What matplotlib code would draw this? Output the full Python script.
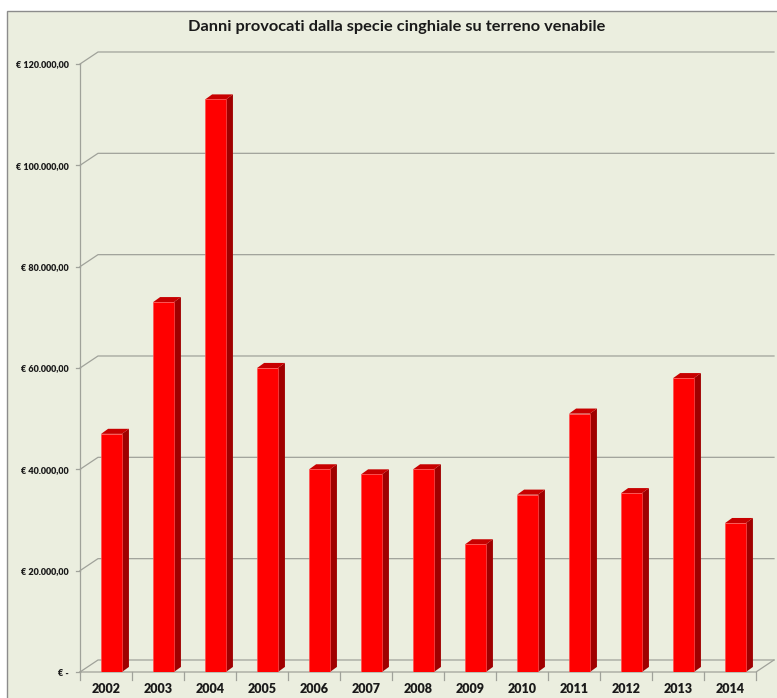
import numpy as np
import matplotlib
matplotlib.use("Agg")
import matplotlib.pyplot as plt
from matplotlib.patches import Polygon, Rectangle

years = ['2002', '2003', '2004', '2005', '2006', '2007', '2008',
         '2009', '2010', '2011', '2012', '2013', '2014']
damages = [47000, 73000, 113000, 60000, 40000, 39000, 40000,
           25200, 35000, 51000, 35300, 58000, 29400]
y_ticks = [0, 20000, 40000, 60000, 80000, 100000, 120000]
y_labels = ['€ -', '€ 20.000,00', '€ 40.000,00', '€ 60.000,00',
            '€ 80.000,00', '€ 100.000,00', '€ 120.000,00']

bg = '#EBEEDF'
grid_c = '#A0A29A'
front_c = '#FF0000'
side_c = '#A00000'
top_c = '#C80000'

fig = plt.figure(figsize=(7.77, 6.98), dpi=100)
fig.patch.set_facecolor('white')
fig.patches.append(Rectangle((7 / 777, -0.01), 1.0, (698 - 11) / 698 + 0.01,
                             transform=fig.transFigure, facecolor=bg,
                             edgecolor='#8C8C8C', lw=1.0, zorder=-10))

ax = fig.add_axes([80 / 777, 26 / 698, 676 / 777, 608 / 698])
ax.set_facecolor('none')
for s in ax.spines.values():
    s.set_visible(False)
ax.set_xlim(-0.5, len(years) - 0.5)
ax.set_ylim(0, 120000)

# perspective offsets of the back wall (data units)
dxb = 0.346
dyb = 2370
x0, x1 = -0.5, len(years) - 0.5

for v in y_ticks:
    ax.plot([x0, x0 + dxb, x1 + dxb], [v, v + dyb, v + dyb],
            color=grid_c, lw=0.9, clip_on=False, zorder=1)
    ax.plot([x0 - 0.08, x0], [v, v], color=grid_c, lw=0.9, clip_on=False)
# floor
ax.plot([x0, x1, x1 + dxb], [0, 0, dyb], color=grid_c, lw=0.9, clip_on=False, zorder=1)
ax.plot([x0, x0], [0, 120000], color=grid_c, lw=0.9, clip_on=False, zorder=1)
for b in np.arange(len(years) + 1) - 0.5:
    ax.plot([b, b], [0, -1500], color=grid_c, lw=0.9, clip_on=False)

# 3D-looking columns
x = np.arange(len(years))
off, w = 0.106, 0.40
sdx, sdy = 0.135, 1000
bars = ax.bar(x + off, damages, width=w, color=front_c, edgecolor='#FF5050',
              lw=0.5, zorder=3)
for rect, h in zip(bars, damages):
    l = rect.get_x()
    r = l + rect.get_width()
    ax.add_patch(Polygon([(r, 0), (r + sdx, sdy), (r + sdx, h + sdy), (r, h)],
                         closed=True, facecolor=side_c, edgecolor='none', zorder=2))
    ax.add_patch(Polygon([(l, h), (l + sdx, h + sdy), (r + sdx, h + sdy), (r, h)],
                         closed=True, facecolor=top_c, edgecolor='none', zorder=2))

ax.set_xticks(x)
ax.set_xticklabels(years, fontsize=9, fontweight='heavy', fontfamily='Lato',
                   color='#1A1A1A')
ax.set_yticks(y_ticks)
ax.set_yticklabels(y_labels, fontsize=6.5, fontweight='heavy', fontfamily='Lato',
                   color='#1A1A1A')
ax.tick_params(axis='both', length=0)
ax.tick_params(axis='x', pad=8)
ax.tick_params(axis='y', pad=8)

fig.text(397 / 777, 1 - 27 / 698,
         'Danni provocati dalla specie cinghiale su terreno venabile',
         ha='center', va='center', fontsize=11.8, fontweight='bold',
         fontfamily='Lato', color='#1A1A1A')

fig.savefig('out.png', dpi=100, facecolor=fig.get_facecolor())
